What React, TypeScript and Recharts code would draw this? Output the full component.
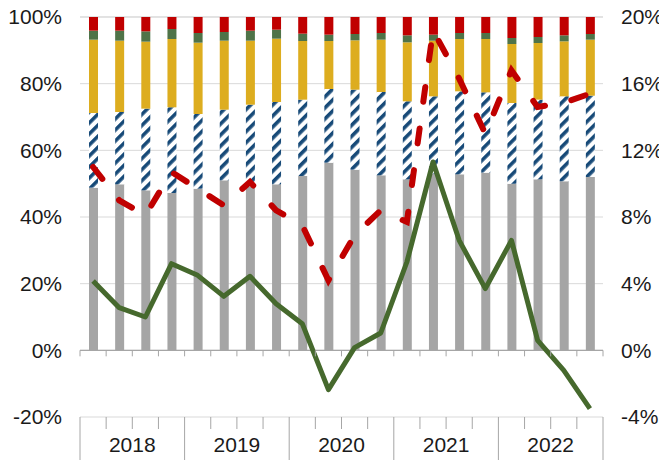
import React from "react";
import {
  ComposedChart,
  Bar,
  Line,
  XAxis,
  YAxis,
  CartesianGrid,
  ReferenceLine,
} from "recharts";

const quarters = [
  "2018Q1", "2018Q2", "2018Q3", "2018Q4",
  "2019Q1", "2019Q2", "2019Q3", "2019Q4",
  "2020Q1", "2020Q2", "2020Q3", "2020Q4",
  "2021Q1", "2021Q2", "2021Q3", "2021Q4",
  "2022Q1", "2022Q2", "2022Q3", "2022Q4",
];
const years = ["2018", "2019", "2020", "2021", "2022"];

// stacked shares, % (left axis)
const greyShare = [48.8, 49.8, 48.0, 47.2, 48.5, 51.0, 49.0, 49.8, 52.3, 56.3, 54.2, 52.5, 51.3, 53.0, 52.8, 53.3, 50.0, 51.3, 50.7, 52.0];
const hatchShare = [22.4, 21.7, 24.5, 25.7, 22.4, 21.2, 24.7, 24.7, 22.9, 22.1, 24.0, 25.0, 23.4, 23.2, 24.9, 24.1, 24.2, 23.9, 25.5, 24.4];
const goldShare = [22.0, 21.4, 20.1, 20.5, 21.4, 20.7, 19.2, 19.0, 17.6, 14.4, 14.8, 15.7, 17.7, 16.7, 15.7, 16.0, 17.7, 17.0, 16.5, 16.8];
const greenShare = [2.7, 3.0, 3.1, 3.0, 2.9, 2.6, 3.0, 2.7, 2.2, 1.9, 1.9, 2.0, 2.1, 1.8, 1.8, 1.8, 1.8, 1.8, 1.8, 1.7];
const redShare = [4.1, 4.1, 4.3, 3.6, 4.8, 4.5, 4.1, 3.8, 5.0, 5.3, 5.1, 4.8, 5.5, 5.3, 4.8, 4.8, 6.3, 6.0, 5.5, 5.1];

// growth rates, % (right axis)
const dashedGrowth = [11.0, 9.0, 8.1, 10.7, 9.7, 8.7, 10.1, 8.4, 7.5, 4.2, 6.9, 8.4, 7.7, 19.2, 16.3, 13.0, 16.8, 14.6, 14.85, 15.4];
const solidGrowth = [4.16, 2.56, 2.0, 5.2, 4.5, 3.24, 4.44, 2.8, 1.6, -2.36, 0.16, 1.04, 5.3, 11.3, 6.6, 3.7, 6.6, 0.6, -1.2, -3.5];

const leftTicks = [-20, 0, 20, 40, 60, 80, 100];
const rightTicks = [-4, 0, 4, 8, 12, 16, 20];

const data = quarters.map((q, i) => ({
  q,
  grey: greyShare[i],
  hatch: hatchShare[i],
  gold: goldShare[i],
  green: greenShare[i],
  red: redShare[i],
  dashed: dashedGrowth[i],
  solid: solidGrowth[i],
}));

const WIDTH = 659;
const HEIGHT = 460;
const LEFT_W = 80;
const RIGHT_W = 56;
const TOP = 17;
const XAXIS_H = 43;
const PLOT_W = WIDTH - LEFT_W - RIGHT_W;
const PLOT_H = HEIGHT - TOP - XAXIS_H;
const BAND = PLOT_W / quarters.length;
const ZERO_OFFSET = (PLOT_H * (0 - leftTicks[0])) / (leftTicks[leftTicks.length - 1] - leftTicks[0]);

const AXIS = "#a6a6a6";
const FONT = "'Liberation Sans', Arial, sans-serif";

const QuarterTick = (props: any) => {
  const { x, y, index } = props;
  const left = x - BAND / 2;
  const right = x + BAND / 2;
  const last = index === quarters.length - 1;
  const zeroY = y - ZERO_OFFSET;
  return (
    <g>
      <line x1={left} x2={left} y1={zeroY} y2={zeroY + 6} stroke={AXIS} />
      {last && <line x1={right} x2={right} y1={zeroY} y2={zeroY + 6} stroke={AXIS} />}
      <line
        x1={left}
        x2={left}
        y1={y}
        y2={y + (index % 4 === 0 ? XAXIS_H : 12)}
        stroke={AXIS}
      />
      {last && <line x1={right} x2={right} y1={y} y2={y + XAXIS_H} stroke={AXIS} />}
      {index % 4 === 1 && (
        <text
          x={right}
          y={y + 28}
          dy="0.355em"
          textAnchor="middle"
          fontSize={21}
          fontFamily={FONT}
          fill="#1a1a1a"
        >
          {years[Math.floor(index / 4)]}
        </text>
      )}
    </g>
  );
};

export default function App() {
  const tickStyle = { fontSize: 21, fontFamily: FONT, fill: "#1a1a1a" };
  return (
    <div style={{ position: "absolute", left: 0, top: 0, background: "#fff" }}>
      <ComposedChart
        width={WIDTH}
        height={HEIGHT}
        data={data}
        margin={{ top: TOP, right: 0, bottom: 0, left: 0 }}
      >
        <defs>
          <pattern
            id="hatch"
            patternUnits="userSpaceOnUse"
            width={10}
            height={7.8}
            patternTransform="rotate(-45)"
          >
            <rect x={0} y={0} width={10} height={7.8} fill="#ffffff" />
            <rect x={0} y={0} width={10} height={3.6} fill="#174a78" />
          </pattern>
        </defs>
        <CartesianGrid yAxisId="left" vertical={false} stroke="#d9d9d9" />
        <XAxis
          dataKey="q"
          height={XAXIS_H}
          axisLine={false}
          tickLine={false}
          tickSize={0}
          tickMargin={0}
          interval={0}
          tick={QuarterTick}
        />
        <YAxis
          yAxisId="left"
          width={LEFT_W}
          domain={[-20, 100]}
          ticks={leftTicks}
          tickFormatter={(v) => `${v}%`}
          axisLine={false}
          tickLine={false}
          tickSize={0}
          tickMargin={18}
          tick={tickStyle}
        />
        <YAxis
          yAxisId="right"
          orientation="right"
          width={RIGHT_W}
          domain={[-4, 20]}
          ticks={rightTicks}
          tickFormatter={(v) => `${v}%`}
          axisLine={false}
          tickLine={false}
          tickSize={0}
          tickMargin={18}
          tick={tickStyle}
        />
        <ReferenceLine yAxisId="left" y={0} stroke={AXIS} strokeWidth={1.2} />
        <Bar yAxisId="left" dataKey="grey" stackId="s" barSize={9} fill="#a5a5a5" isAnimationActive={false} />
        <Bar yAxisId="left" dataKey="hatch" stackId="s" barSize={9} fill="url(#hatch)" isAnimationActive={false} />
        <Bar yAxisId="left" dataKey="gold" stackId="s" barSize={9} fill="#ddad1f" isAnimationActive={false} />
        <Bar yAxisId="left" dataKey="green" stackId="s" barSize={9} fill="#4f7348" isAnimationActive={false} />
        <Bar yAxisId="left" dataKey="red" stackId="s" barSize={9} fill="#c00000" isAnimationActive={false} />
        <Line
          yAxisId="right"
          type="linear"
          dataKey="dashed"
          stroke="#c00000"
          strokeWidth={6}
          strokeDasharray="15 27"
          strokeLinecap="round"
          dot={false}
          isAnimationActive={false}
        />
        <Line
          yAxisId="right"
          type="linear"
          dataKey="solid"
          stroke="#46692d"
          strokeWidth={5}
          strokeLinejoin="round"
          dot={false}
          isAnimationActive={false}
        />
      </ComposedChart>
    </div>
  );
}
